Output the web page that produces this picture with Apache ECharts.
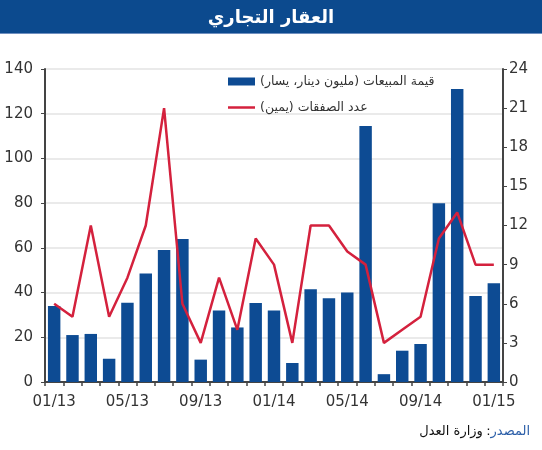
<!DOCTYPE html>
<html>
<head>
<meta charset="utf-8">
<script src="https://cdn.jsdelivr.net/npm/echarts@6/dist/echarts.min.js"></script>
<style>
  html, body { margin: 0; padding: 0; background: #fff; }
  #chart { width: 542px; height: 450px; }
</style>
</head>
<body>
<div id="chart"></div>
<script>
// months 01/13 .. 01/15
const months = [
  '01/13', '02/13', '03/13', '04/13', '05/13', '06/13', '07/13', '08/13', '09/13',
  '10/13', '11/13', '12/13', '01/14', '02/14', '03/14', '04/14', '05/14', '06/14',
  '07/14', '08/14', '09/14', '10/14', '11/14', '12/14', '01/15'
]
// قيمة المبيعات (مليون دينار) - left axis
const salesValue = [34, 21, 21.5, 10.4, 35.5, 48.5, 59, 64, 10, 32, 24.4, 35.3, 32,
  8.5, 41.5, 37.5, 40, 114.5, 3.5, 14, 17, 80, 131, 38.5, 44.2]
// عدد الصفقات - right axis
const dealCount = [6, 5, 12, 5, 8, 12, 21, 6, 3, 8, 4, 11, 9,
  3, 12, 12, 10, 9, 3, 4, 5, 11, 13, 9, 9]

const leftTicks = { min: 0, max: 140, interval: 20 }
const rightTicks = { min: 0, max: 24, interval: 3 }

const RLM = '\u200F'
const salesName = 'قيمة المبيعات (مليون دينار، يسار)' + RLM
const dealsName = 'عدد الصفقات (يمين)' + RLM

const chart = echarts.init(document.getElementById('chart'))
const axisColor = '#444'
const labelStyle = { color: '#333', fontSize: 15, fontFamily: 'DejaVu Sans, sans-serif' }

chart.setOption({
  animation: false,
  textStyle: { fontFamily: 'DejaVu Sans, sans-serif' },
  grid: { left: 45, right: 39, top: 69, bottom: 68 },
  graphic: [
    {
      type: 'rect',
      left: 0, top: 0,
      shape: { width: 542, height: 33 },
      style: { fill: '#0c4a8e' }
    },
    {
      type: 'rect',
      left: 0, top: 33,
      shape: { width: 542, height: 1 },
      style: { fill: '#6f8fbf' }
    },
    {
      type: 'text',
      left: 'center', top: 9,
      style: {
        text: 'العقار التجاري',
        fill: '#fff',
        font: 'bold 18px "DejaVu Sans", sans-serif'
      }
    },
    {
      type: 'text',
      right: 12, top: 425,
      style: {
        text: '{b|وزارة العدل} {b|:}{a|المصدر}',
        rich: {
          a: { fill: '#2b5ea8', fontSize: 13, fontFamily: 'DejaVu Sans, sans-serif' },
          b: { fill: '#111', fontSize: 13, fontFamily: 'DejaVu Sans, sans-serif' }
        }
      }
    }
  ],
  legend: {
    orient: 'vertical',
    left: 223,
    top: 70,
    itemWidth: 27,
    itemHeight: 8,
    itemGap: 13,
    textStyle: { color: '#333', fontSize: 12.5, fontFamily: 'DejaVu Sans, sans-serif' },
    data: [
      { name: salesName, icon: 'rect' },
      { name: dealsName, icon: 'path://M0,0 L27,0 L27,2.5 L0,2.5 Z' }
    ]
  },
  xAxis: {
    type: 'category',
    data: months,
    axisLine: { lineStyle: { color: axisColor, width: 2 } },
    axisTick: { show: true, interval: 0, length: 4, lineStyle: { color: axisColor, width: 1.5 } },
    axisLabel: { interval: 3, margin: 13, ...labelStyle }
  },
  yAxis: [
    {
      type: 'value',
      min: leftTicks.min, max: leftTicks.max, interval: leftTicks.interval,
      axisLine: { show: true, lineStyle: { color: axisColor, width: 2 } },
      axisTick: { show: true, length: 4, lineStyle: { color: axisColor } },
      axisLabel: { margin: 12, ...labelStyle },
      splitLine: { show: true, lineStyle: { color: '#e3e3e3', width: 1.5 } }
    },
    {
      type: 'value',
      min: rightTicks.min, max: rightTicks.max, interval: rightTicks.interval,
      axisLine: { show: true, lineStyle: { color: axisColor, width: 2 } },
      axisTick: { show: true, length: 4, lineStyle: { color: axisColor } },
      axisLabel: { margin: 6, ...labelStyle },
      splitLine: { show: false }
    }
  ],
  series: [
    {
      name: salesName,
      type: 'bar',
      yAxisIndex: 0,
      data: salesValue,
      barWidth: '68%',
      itemStyle: { color: '#0d4b93' }
    },
    {
      name: dealsName,
      type: 'line',
      yAxisIndex: 1,
      data: dealCount,
      symbol: 'none',
      lineStyle: { color: '#d4213d', width: 2.5 },
      itemStyle: { color: '#d4213d' }
    }
  ]
})
</script>
</body>
</html>
